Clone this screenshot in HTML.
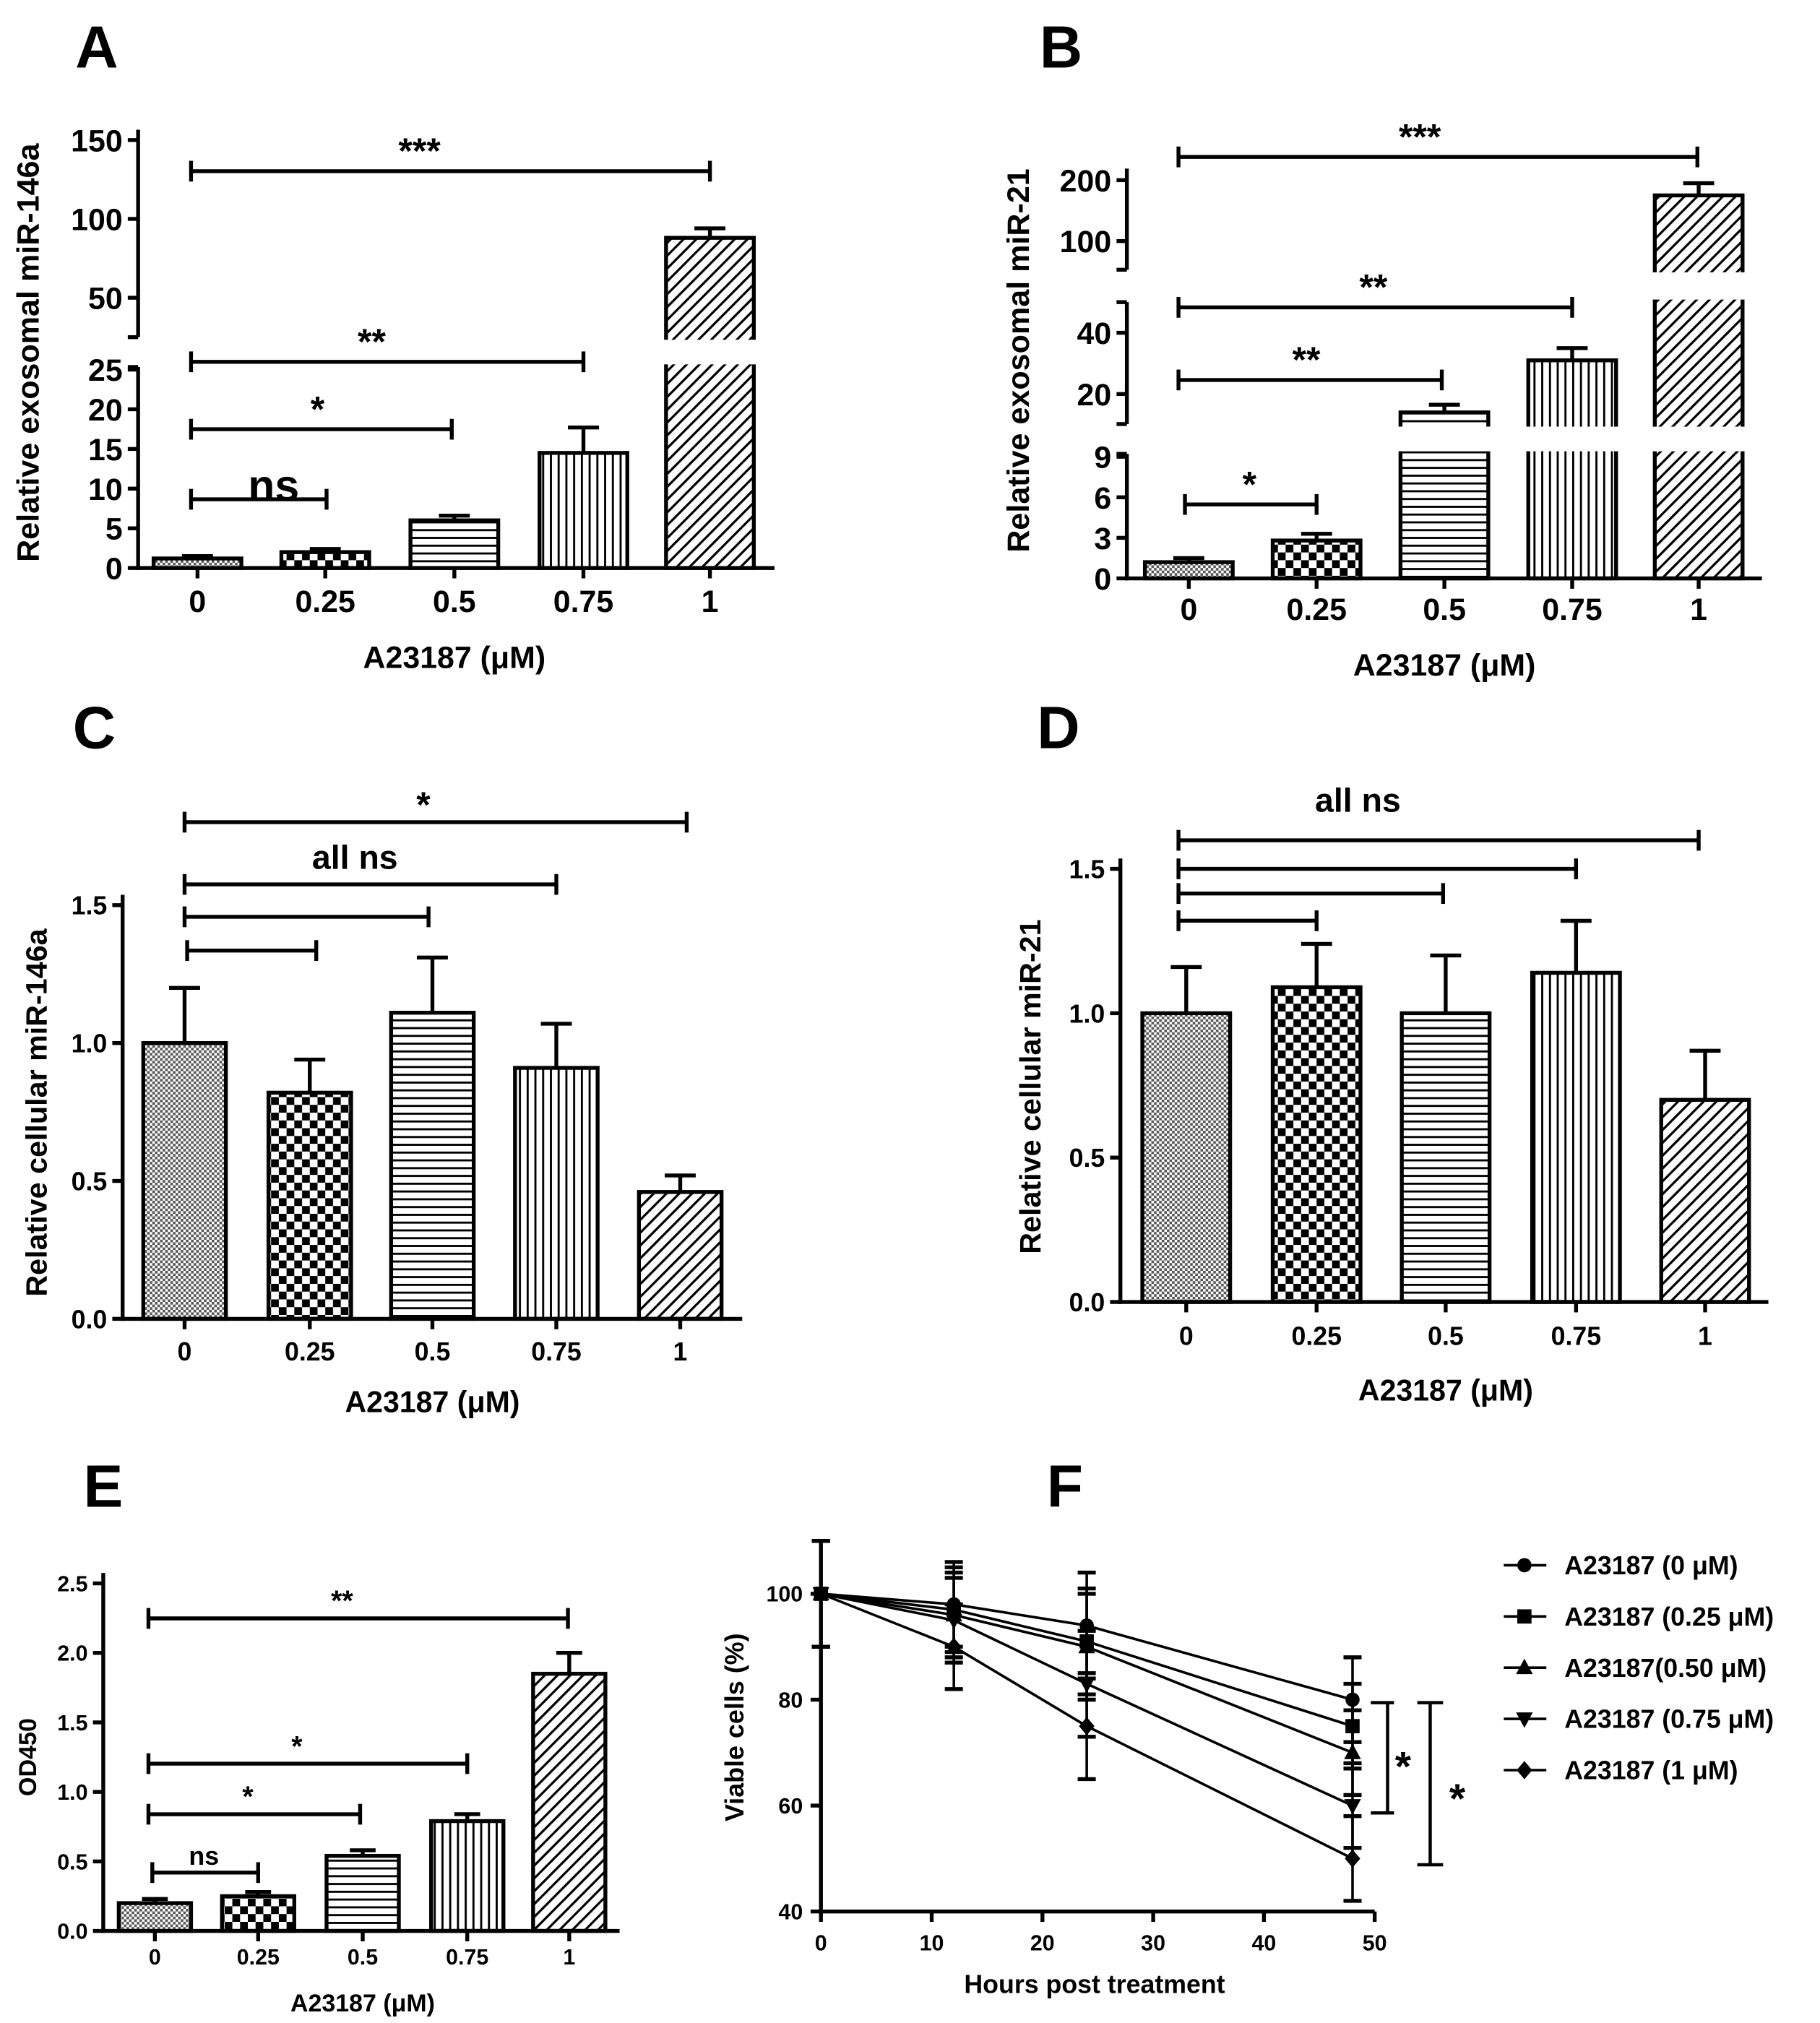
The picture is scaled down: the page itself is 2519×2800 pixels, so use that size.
<!DOCTYPE html>
<html><head><meta charset="utf-8">
<style>
html,body{margin:0;padding:0;background:#fff;}
svg{display:block;}
text{font-family:"Liberation Sans",Arial,sans-serif;font-weight:bold;fill:#000;}
</style></head>
<body>
<svg id="fig" width="2519" height="2800" viewBox="0 0 1410 1560" preserveAspectRatio="none" xmlns="http://www.w3.org/2000/svg">
<defs>
<pattern id="p0" patternUnits="userSpaceOnUse" width="4" height="4"><rect width="4" height="4" fill="#fff"/><rect width="2" height="2" fill="#555"/><rect x="2" y="2" width="2" height="2" fill="#555"/></pattern>
<pattern id="p1" patternUnits="userSpaceOnUse" width="12" height="12"><rect width="12" height="12" fill="#fff"/><rect width="6" height="6" fill="#000"/><rect x="6" y="6" width="6" height="6" fill="#000"/></pattern>
<pattern id="p2" patternUnits="userSpaceOnUse" width="6" height="6"><rect width="6" height="6" fill="#fff"/><rect width="6" height="1.6" fill="#000"/></pattern>
<pattern id="p3" patternUnits="userSpaceOnUse" width="6" height="6"><rect width="6" height="6" fill="#fff"/><rect width="1.6" height="6" fill="#000"/></pattern>
<pattern id="p4" patternUnits="userSpaceOnUse" width="7" height="7" patternTransform="rotate(45)"><rect width="7" height="7" fill="#fff"/><rect width="1.8" height="7" fill="#000"/></pattern>
</defs>
</svg>
<script>
const cats=['0','0.25','0.5','0.75','1'];
const valsA=[1.2,2.0,6.0,14.5,88];
const errA=[0.3,0.4,0.6,3.2,6];
const valsB=[1.2,2.8,14,31,175];
const errB=[0.3,0.5,2.5,4,20];
const valsC=[1.0,0.82,1.11,0.91,0.46];
const errC=[0.2,0.12,0.2,0.16,0.06];
const valsD=[1.0,1.09,1.0,1.14,0.7];
const errD=[0.16,0.15,0.2,0.18,0.17];
const valsE=[0.2,0.25,0.54,0.79,1.85];
const errE=[0.03,0.03,0.04,0.05,0.15];
const hours=[0,12,24,48];
const f0=[100,98,94,80];
const f025=[100,97,91,75];
const f050=[100,96,90,70];
const f075=[100,95,83,60];
const f1=[100,90,75,50];
const fErr=[10,8,10,8];
const fLabels=['A23187 (0 μM)','A23187 (0.25 μM)','A23187(0.50 μM)','A23187 (0.75 μM)','A23187 (1 μM)'];

const svg=document.getElementById('fig');
const NS='http://www.w3.org/2000/svg';
function mk(tag,at,parent){const e=document.createElementNS(NS,tag);for(const k in at)e.setAttribute(k,at[k]);(parent||svg).appendChild(e);return e;}
function txt(x,y,s,size,anchor,parent){const t=mk('text',{x:x,y:y,'font-size':size,'text-anchor':anchor||'middle'},parent);t.textContent=s;return t;}
function line(x1,y1,x2,y2,w,parent){return mk('line',{x1:x1,y1:y1,x2:x2,y2:y2,stroke:'#000','stroke-width':w||3},parent);}

function yMap(segs,v){
  for(let i=0;i<segs.length;i++){const s=segs[i];
    if(v<=s.hi||i==segs.length-1){const vv=Math.max(v,s.lo);return s.y0-(vv-s.lo)*(s.y0-s.y1)/(s.hi-s.lo);}}
}

function barPanel(o){
  const g=mk('g',{});
  
  
  const y0=yMap(o.segs,0);
  o.vals.forEach((v,i)=>{
    const cx=o.xs[i],top=yMap(o.segs,v);
    const r=mk('rect',{x:cx-o.bw/2,y:top,width:o.bw,height:y0-top,fill:'url(#p'+i+')',stroke:'#000','stroke-width':3},g);
    
    
    const et=yMap(o.segs,v+o.errs[i]);
    line(cx,top,cx,et,3,g);line(cx-o.cap,et,cx+o.cap,et,3,g);
  });
  for(let i=0;i<o.segs.length-1;i++){
    const a=o.segs[i].ytop,b=o.segs[i+1].y0;
    mk('rect',{x:o.ax-10,y:b+2,width:o.xend-o.ax+20,height:a-b-4,fill:'#fff'},g);
  }
  o.segs.forEach(s=>{line(o.ax,s.y0+(s===o.segs[0]?1.5:0),o.ax,s===o.segs[o.segs.length-1]?s.yax:s.ytop,3,g);
    if(s!==o.segs[0]) line(o.ax-8,s.y0,o.ax,s.y0,3,g);
    if(s!==o.segs[o.segs.length-1]) line(o.ax-8,s.ytop,o.ax,s.ytop,3,g);});
  o.ticks.forEach(t=>{const y=yMap(o.segs,t);line(o.ax-8,y,o.ax,y,3,g);
    const l=txt(o.ax-12,y+o.ts*0.36,o.tickFmt?o.tickFmt(t):String(t),o.ts,'end',g);
    });
  line(o.ax-1.5,y0,o.xend,y0,3,g);
  o.xs.forEach((x,i)=>{line(x,y0,x,y0+8,3,g);const l=txt(x,o.xly,cats[i],o.ts,'middle',g);
    });
  const xt=txt(o.xtx,o.xty,'A23187 (μM)',o.tt,'middle',g);
  
  const yt=txt(0,0,o.ytitle,o.tt,'middle',g);yt.setAttribute('transform','translate('+o.ytx+','+o.yty+') rotate(-90)');
  
  o.brs.forEach(b=>{line(b[0],b[2],b[1],b[2],3,g);line(b[0],b[2]-8,b[0],b[2]+8,3,g);line(b[1],b[2]-8,b[1],b[2]+8,3,g);
    if(b[3]){const l=txt(b[4]!==undefined?b[4]:(b[0]+b[1])/2,b[2]+(b[5]||-8),b[3],b[6]||26,'middle',g);
      if(b[3].indexOf('ns')>=0) l.setAttribute('font-weight','normal');
      }});
  const L=txt(o.lx,o.ly,o.letter,46,'middle');
}

barPanel({name:'panel-a',letter:'A',lx:75,ly:52,vals:valsA,errs:errA,xs:[153,252,352,452,550],bw:68,cap:12,ax:107,xend:600,
 segs:[{lo:0,hi:25,y0:438,y1:285,ytop:283},{lo:25,hi:150,y0:260,y1:108,yax:100}],
 ticks:[0,5,10,15,20,25,50,100,150],ts:24,tt:24,xly:472,xtx:352,xty:515,ytitle:'Relative exosomal miR-146a',ytx:30,yty:272,
 brs:[[148,550,132,'***',325,-6,28],[148,452,279,'**',288,-6,28],[148,350,331,'*',246,-6,28],[148,253,385,'ns',212,1,34]]});

barPanel({name:'panel-b',letter:'B',lx:822,ly:52,vals:valsB,errs:errB,xs:[921,1020,1119,1218,1316],bw:68,cap:12,ax:873,xend:1365,
 segs:[{lo:0,hi:9.5,y0:446,y1:347,ytop:350},{lo:10.2,hi:50,y0:327,y1:233,ytop:233},{lo:53,hi:219,y0:208,y1:130,yax:130}],
 ticks:[0,3,6,9,20,40,100,200],ts:24,tt:24,xly:478,xtx:1119,xty:521,ytitle:'Relative exosomal miR-21',ytx:797,yty:278,
 brs:[[913,1315,121,'***',1100,-6,28],[913,1218,237,'**',1064,-6,28],[913,1117,293,'**',1012,-6,28],[918,1020,389,'*',968,-6,28]]});

barPanel({name:'panel-c',letter:'C',lx:73,ly:577,vals:valsC,errs:errC,xs:[143,240,335,431,527],bw:64,cap:12,ax:95,xend:575,
 segs:[{lo:0,hi:1.5,y0:1017,y1:698,yax:690}],ticks:[0,0.5,1,1.5],tickFmt:t=>t.toFixed(1),ts:20,tt:23,xly:1049,xtx:335,xty:1089,
 ytitle:'Relative cellular miR-146a',ytx:36,yty:858,
 brs:[[143,532,634,'*',328,-4,28],[143,431,682,'all ns',275,-12,26],[143,332,707],[145,245,733]]});

barPanel({name:'panel-d',letter:'D',lx:820,ly:577,vals:valsD,errs:errD,xs:[919,1020,1120,1221,1321],bw:68,cap:12,ax:868,xend:1370,
 segs:[{lo:0,hi:1.5,y0:1004,y1:670,yax:662}],ticks:[0,0.5,1,1.5],tickFmt:t=>t.toFixed(1),ts:20,tt:23,xly:1037,xtx:1120,xty:1080,
 ytitle:'Relative cellular miR-21',ytx:806,yty:838,
 brs:[[913,1316,648,'all ns',1052,-22,26],[913,1221,670],[913,1118,689],[913,1020,710]]});

barPanel({name:'panel-e',letter:'E',lx:80,ly:1162,vals:valsE,errs:errE,xs:[120,200,281,362,441],bw:56,cap:10,ax:80,xend:480,
 segs:[{lo:0,hi:2.5,y0:1489,y1:1221,yax:1213}],ticks:[0,0.5,1,1.5,2,2.5],tickFmt:t=>t.toFixed(1),ts:17,tt:19,xly:1515,xtx:281,xty:1551,
 ytitle:'OD450',ytx:28,yty:1355,
 brs:[[115,440,1248,'**',265,-6,22],[115,362,1360,'*',230,-6,22],[115,279,1399,'*',192,-6,22],[118,200,1444,'ns',158,-6,20]]});

(function(){
  const g=mk('g',{});
  
  
  const X=h=>636+h*8.58, Y=v=>1474-(v-40)*4.083;
  const series=[f0,f025,f050,f075,f1];
  const shapes=['circle','square','up','down','diamond'];
  function marker(x,y,s,p){
    if(s=='circle')return mk('circle',{cx:x,cy:y,r:5.5,fill:'#000'},p);
    if(s=='square')return mk('rect',{x:x-5.5,y:y-5.5,width:11,height:11,fill:'#000'},p);
    if(s=='up')return mk('polygon',{points:`${x},${y-7} ${x-6.5},${y+5} ${x+6.5},${y+5}`,fill:'#000'},p);
    if(s=='down')return mk('polygon',{points:`${x},${y+7} ${x-6.5},${y-5} ${x+6.5},${y-5}`,fill:'#000'},p);
    return mk('polygon',{points:`${x},${y-7} ${x+6},${y} ${x},${y+7} ${x-6},${y}`,fill:'#000'},p);
  }
  series.forEach((s,si)=>{
    const pts=s.map((v,i)=>X(hours[i])+','+Y(v)).join(' ');
    const pl=mk('polyline',{points:pts,fill:'none',stroke:'#000','stroke-width':2},g);
    
    
    s.forEach((v,i)=>{
      const x=X(hours[i]);
      line(x,Y(v-fErr[i]),x,Y(v+fErr[i]),2,g);
      line(x-7,Y(v-fErr[i]),x+7,Y(v-fErr[i]),3,g);line(x-7,Y(v+fErr[i]),x+7,Y(v+fErr[i]),3,g);
      const m=marker(x,Y(v),shapes[si],g);
      
      
    });
  });
  line(636,1188,636,1475.5,3,g);line(634.5,1474,1065,1474,3,g);
  [40,60,80,100].forEach(t=>{line(628,Y(t),636,Y(t),3,g);txt(622,Y(t)+6,String(t),17,'end',g);});
  [0,10,20,30,40,50].forEach(t=>{line(X(t),1474,X(t),1482,3,g);txt(X(t),1504,String(t),17,'middle',g);});
  const xt=txt(848,1537,'Hours post treatment',20,'middle',g);
  
  const yt=txt(0,0,'Viable cells (%)',20,'middle',g);yt.setAttribute('transform','translate(576,1332) rotate(-90)');
  
  line(1075,1313,1075,1398,2.5,g);line(1062,1313,1080,1313,2.5,g);line(1062,1398,1080,1398,2.5,g);txt(1087,1373,'*',32,'middle',g);
  line(1108,1313,1108,1438,2.5,g);line(1098,1313,1118,1313,2.5,g);line(1098,1438,1118,1438,2.5,g);txt(1129,1398,'*',32,'middle',g);
  fLabels.forEach((lab,i)=>{
    const y=1207+i*39.5;
    const lg=mk('g',{},g);
    
    
    line(1165,y,1198,y,2,lg);marker(1181,y,shapes[i],lg);
    txt(1212,y+7,lab,20,'start',lg);
  });
  const L=txt(825,1162,'F',46,'middle');
})();
</script>
</body></html>
